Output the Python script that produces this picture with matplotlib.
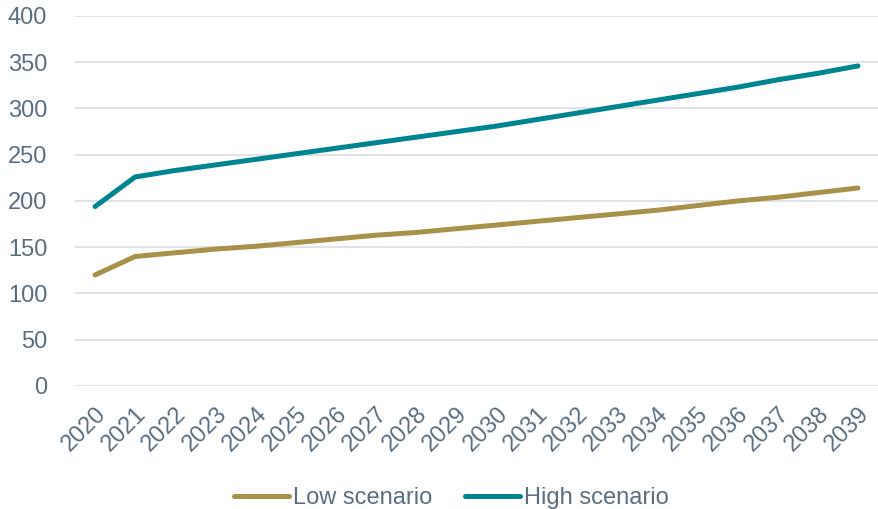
import matplotlib
matplotlib.use('Agg')
import matplotlib.pyplot as plt

years = list(range(2020, 2040))
low = [120, 140, 144, 148, 151, 155, 159, 163, 166, 170,
       174, 178, 182, 186, 190, 195, 200, 204, 209, 214]
high = [194, 226, 233, 239, 245, 251, 257, 263, 269, 275,
        281, 288, 295, 302, 309, 316, 323, 331, 338, 346]

TEXT = '#5B6F80'
COLORS = {'Low scenario': '#A8924A', 'High scenario': '#00848F'}

plt.rcParams['font.family'] = ['Liberation Sans', 'DejaVu Sans']

fig = plt.figure(figsize=(8.79, 5.09), dpi=100)
ax = fig.add_axes([0.0853, 0.2417, 0.9136, 0.7269])

ax.plot(years, low, color=COLORS['Low scenario'], linewidth=3.6,
        solid_capstyle='round', solid_joinstyle='round', label='Low scenario')
ax.plot(years, high, color=COLORS['High scenario'], linewidth=3.6,
        solid_capstyle='round', solid_joinstyle='round', label='High scenario')

ax.set_xlim(2019.5, 2039.5)
ax.set_ylim(0, 400)
ax.set_yticks(range(0, 401, 50))
ax.set_xticks(years)
ax.set_xticklabels([str(y) for y in years], rotation=45, ha='right',
                   rotation_mode='anchor')

ax.grid(axis='y', color='#DCE0E4', linewidth=1.3)
ax.set_axisbelow(True)
for s in ax.spines.values():
    s.set_visible(False)
ax.tick_params(axis='both', length=0, labelsize=17, labelcolor=TEXT)
ax.tick_params(axis='y', pad=20)
ax.tick_params(axis='x', pad=12)

fig.legend(loc='center', bbox_to_anchor=(0.5137, 0.022), ncol=2, frameon=False,
           fontsize=17, labelcolor=TEXT, handlelength=2.33, handletextpad=0.15,
           columnspacing=1.4)

fig.savefig('out.png', dpi=100)
